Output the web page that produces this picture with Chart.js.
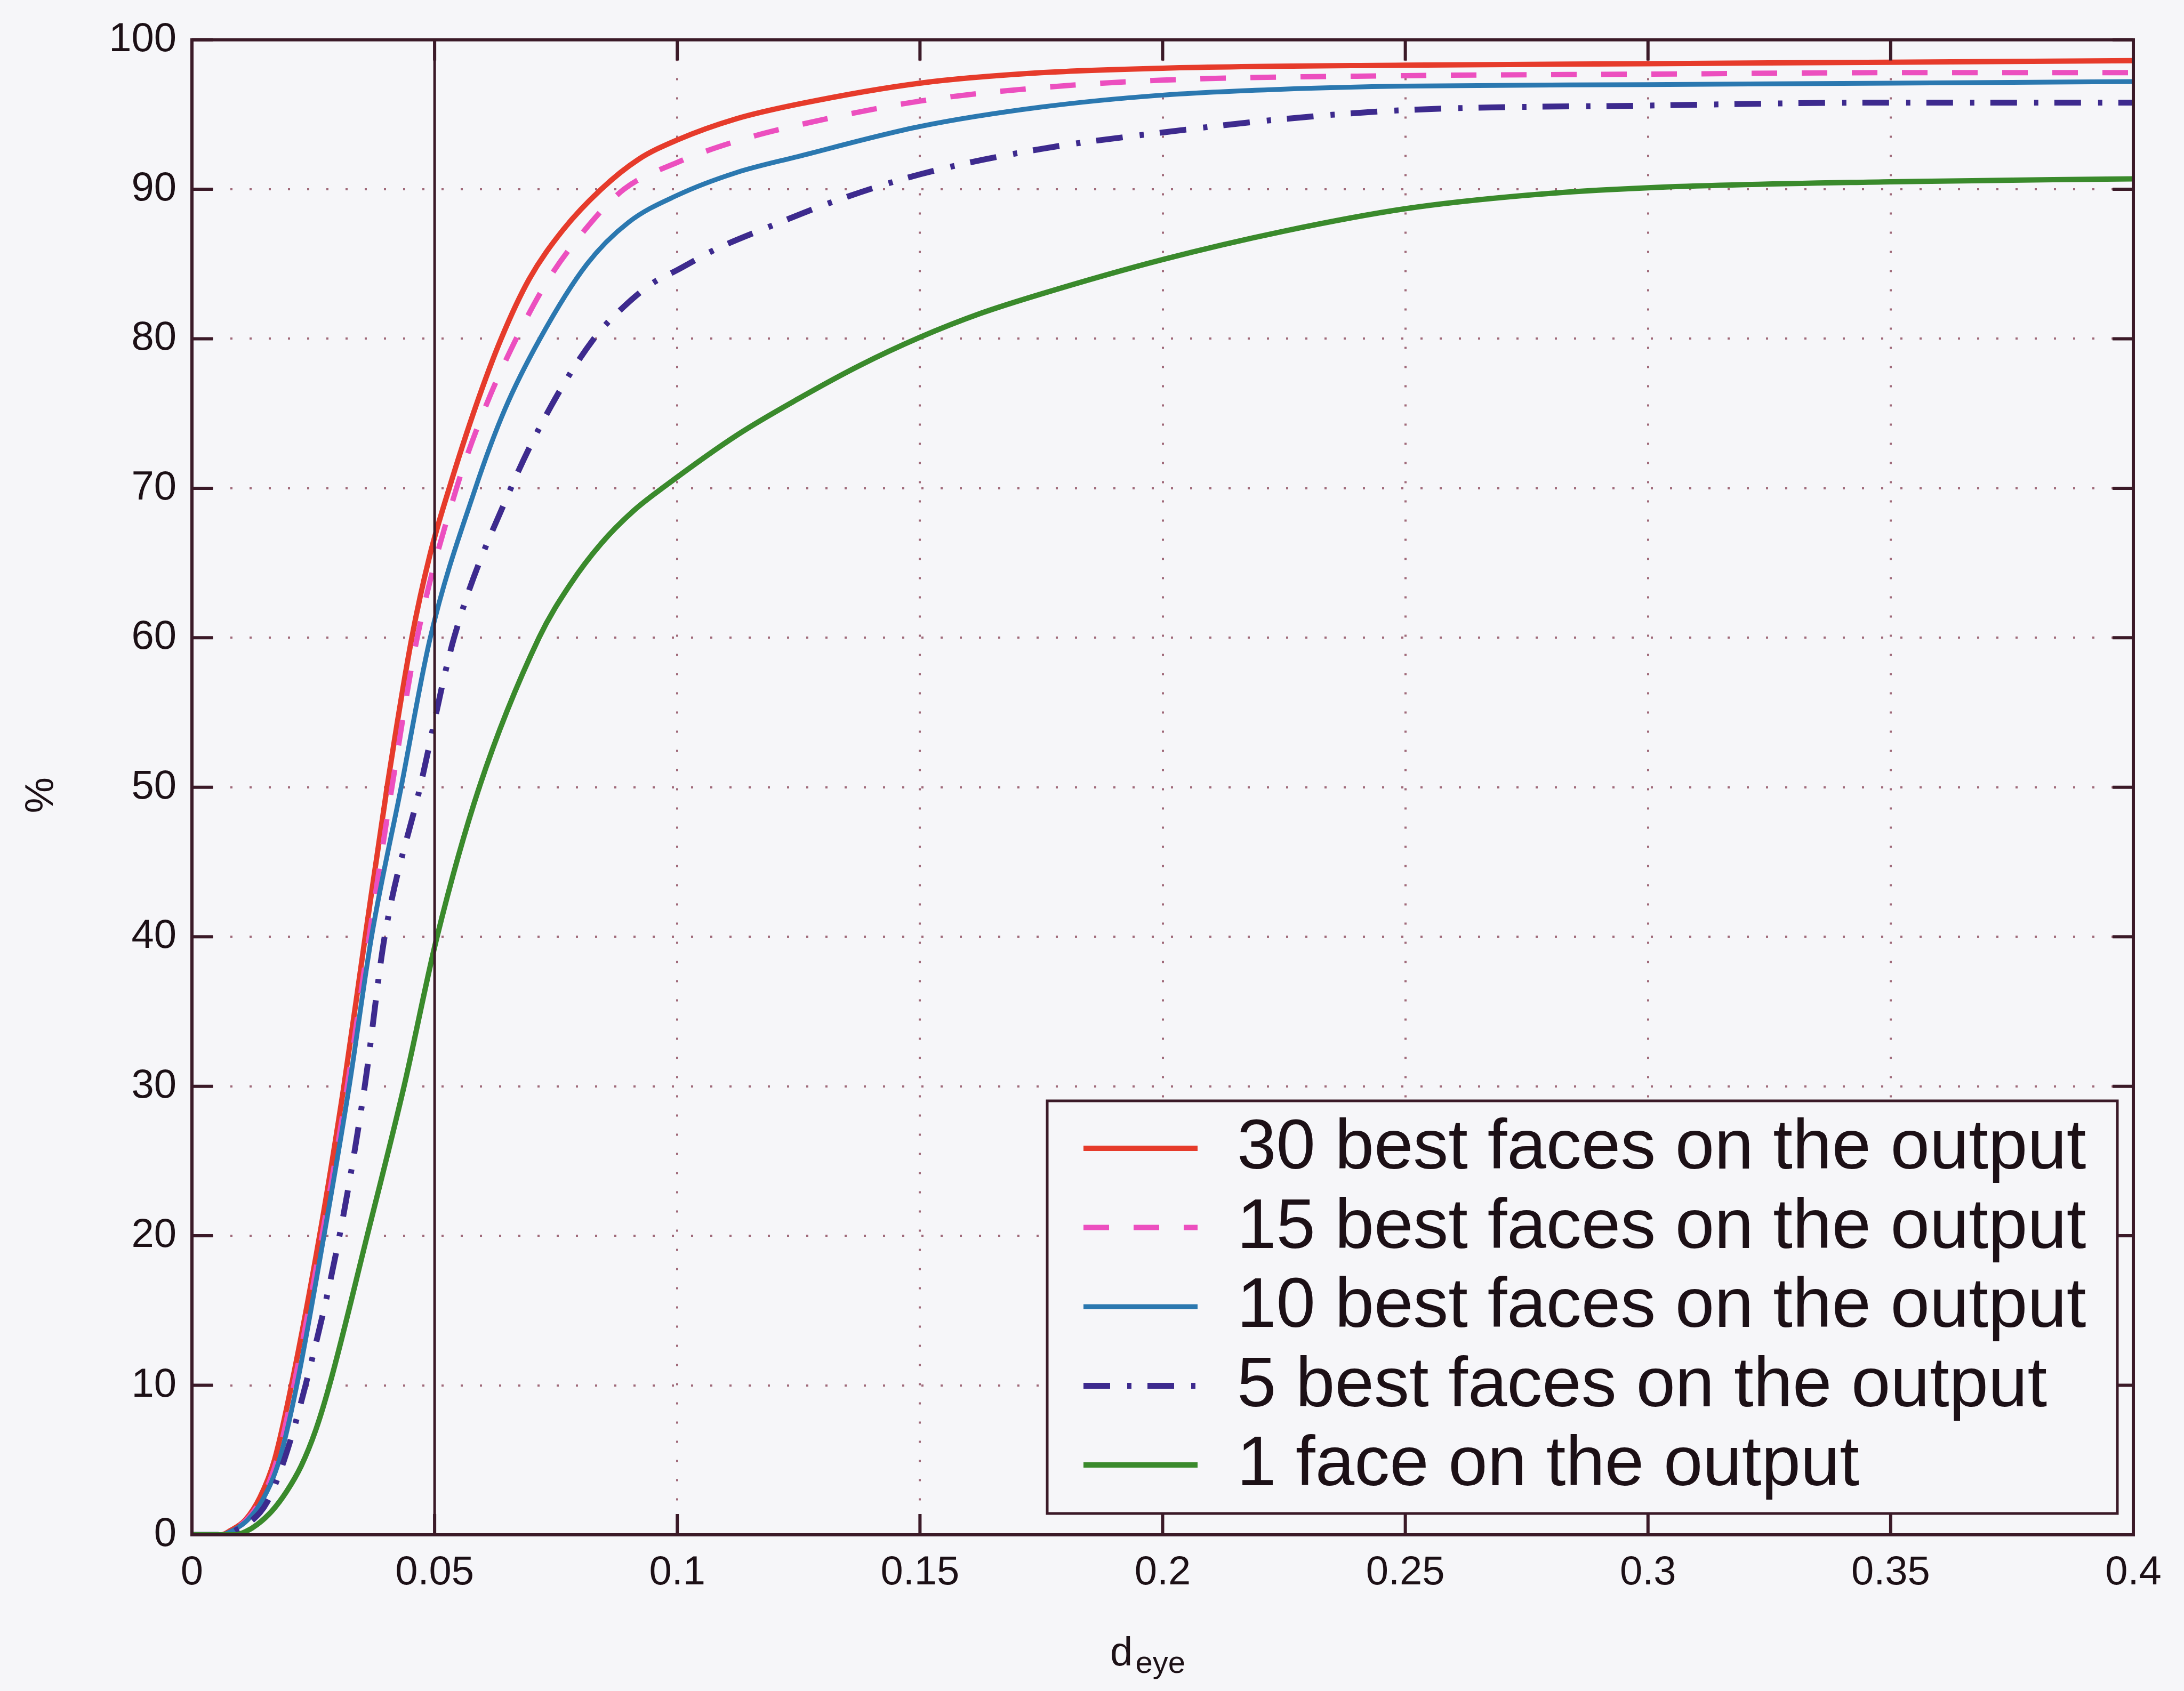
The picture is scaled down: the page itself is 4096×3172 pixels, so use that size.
<!DOCTYPE html>
<html>
<head>
<meta charset="utf-8">
<script src="https://cdn.jsdelivr.net/npm/chart.js@4.4.1/dist/chart.umd.min.js"></script>
<style>
  html, body { margin: 0; padding: 0; background: #f6f6f9; }
  canvas { display: block; }
</style>
</head>
<body>
<canvas id="cdf" width="4096" height="3172"></canvas>
<script>
// ---- data -------------------------------------------------------------
const xTickLabels = ['0', '0.05', '0.1', '0.15', '0.2', '0.25', '0.3', '0.35', '0.4'];
const yTickLabels = ['0', '10', '20', '30', '40', '50', '60', '70', '80', '90', '100'];

const seriesNames = [
  '30 best faces on the output',
  '15 best faces on the output',
  '10 best faces on the output',
  '5 best faces on the output',
  '1 face on the output'
];

const dEye30 = [0, 0.006, 0.008, 0.011, 0.014, 0.017, 0.0205, 0.0263, 0.0313, 0.0357, 0.0402, 0.0453, 0.049, 0.053, 0.0585, 0.0637, 0.0695, 0.0765, 0.0843, 0.092, 0.1, 0.112, 0.125, 0.15, 0.175, 0.2, 0.25, 0.3, 0.35, 0.4];
const pct30  = [0, 0, 0.3, 1, 2.5, 5, 10, 20, 30, 40, 50, 60, 65.5, 70, 75.5, 80, 84, 87.3, 90, 92, 93.3, 94.7, 95.7, 97.1, 97.8, 98.1, 98.3, 98.4, 98.5, 98.6];

const dEye15 = [0, 0.006, 0.0083, 0.0113, 0.0143, 0.0175, 0.021, 0.0268, 0.032, 0.0365, 0.0412, 0.0464, 0.0545, 0.0603, 0.0668, 0.0735, 0.081, 0.089, 0.1, 0.112, 0.125, 0.15, 0.175, 0.2, 0.25, 0.3, 0.35, 0.4];
const pct15  = [0, 0, 0.3, 1, 2.4, 5, 10, 20, 30, 40, 50, 60, 70, 75.3, 80, 84, 87.3, 90, 91.8, 93.2, 94.3, 95.9, 96.8, 97.3, 97.6, 97.7, 97.8, 97.8];

const dEye10 = [0, 0.006, 0.0085, 0.0115, 0.0145, 0.018, 0.0216, 0.0272, 0.0324, 0.037, 0.0431, 0.0491, 0.0584, 0.0645, 0.0717, 0.0814, 0.09, 0.1, 0.112, 0.125, 0.15, 0.175, 0.2, 0.225, 0.25, 0.3, 0.35, 0.4];
const pct10  = [0, 0, 0.3, 1, 2.3, 5, 10, 20, 30, 40, 50, 60, 70, 75.3, 80, 85, 87.8, 89.6, 91.1, 92.2, 94.2, 95.5, 96.3, 96.7, 96.9, 97.0, 97.1, 97.2];

const dEye5 = [0, 0.0065, 0.009, 0.0125, 0.0155, 0.019, 0.0234, 0.0304, 0.0356, 0.0397, 0.047, 0.054, 0.0657, 0.074, 0.0828, 0.0885, 0.0948, 0.1, 0.108, 0.119, 0.1315, 0.15, 0.175, 0.2, 0.225, 0.25, 0.3, 0.35, 0.4];
const pct5  = [0, 0, 0.3, 1, 2.2, 5, 10, 20, 30, 40, 50, 60, 70, 75.5, 80, 82, 83.7, 84.6, 86, 87.5, 89.1, 91.0, 92.7, 93.8, 94.7, 95.3, 95.6, 95.8, 95.8];

const dEye1 = [0, 0.009, 0.011, 0.0135, 0.0165, 0.0195, 0.0225, 0.0255, 0.0285, 0.0361, 0.0437, 0.0505, 0.0592, 0.0715, 0.078, 0.0843, 0.091, 0.0977, 0.1125, 0.125, 0.1375, 0.15, 0.1625, 0.175, 0.2, 0.225, 0.25, 0.275, 0.3, 0.35, 0.4];
const pct1  = [0, 0, 0.2, 0.7, 1.6, 2.9, 4.6, 7.0, 10.2, 20, 30, 40, 50, 60, 63.6, 66.3, 68.5, 70.2, 73.6, 76, 78.2, 80.1, 81.7, 83.0, 85.3, 87.2, 88.7, 89.6, 90.1, 90.5, 90.7];

// threshold marker d_eye = 0.05
const thresholdX = [0.05, 0.05];
const thresholdY = [0, 100];

// ---- styling ----------------------------------------------------------
const FONT = "'Liberation Sans', Arial, Helvetica, sans-serif";
const PAPER = '#f6f6f9';
const INK = '#1c1016';
const AXIS = '#3b1a28';
const GRID = '#a06a7a';

const toPoints = (xs, ys) => xs.map((x, i) => ({ x: x, y: ys[i] }));

const curve = (name, xs, ys, color, dash, width, order) => ({
  label: name,
  data: toPoints(xs, ys),
  borderColor: color,
  backgroundColor: color,
  borderWidth: width,
  borderDash: dash,
  borderCapStyle: 'butt',
  pointRadius: 0,
  cubicInterpolationMode: 'monotone',
  fill: false,
  order: order
});

const datasets = [
  curve(seriesNames[0], dEye30, pct30, '#e63b2b', [], 10, 5),
  curve(seriesNames[1], dEye15, pct15, '#ec4fbf', [48, 46], 10, 4),
  curve(seriesNames[2], dEye10, pct10, '#2b78b0', [], 9, 3),
  curve(seriesNames[3], dEye5, pct5, '#3d2a8e', [50, 32, 8, 30], 11, 2),
  curve(seriesNames[4], dEye1, pct1, '#3a8a2c', [], 10, 1),
  {
    label: 'threshold',
    data: toPoints(thresholdX, thresholdY),
    borderColor: AXIS,
    borderWidth: 5,
    pointRadius: 0,
    fill: false,
    order: 0,
    isMarker: true
  }
];

// Frame, inward tick marks, legend box and axis titles
const framePlugin = {
  id: 'frame',
  beforeDraw(chart) {
    const ctx = chart.ctx;
    ctx.save();
    ctx.fillStyle = PAPER;
    ctx.fillRect(0, 0, chart.width, chart.height);
    ctx.restore();
  },
  afterDatasetsDraw(chart) {
    const { ctx, chartArea: a, scales: { x, y } } = chart;
    const tickLen = 39;
    ctx.save();
    ctx.strokeStyle = AXIS;
    ctx.lineWidth = 6;
    ctx.lineCap = 'butt';
    ctx.setLineDash([]);
    ctx.beginPath();
    x.ticks.forEach(t => {
      const px = x.getPixelForValue(t.value);
      ctx.moveTo(px, a.bottom); ctx.lineTo(px, a.bottom - tickLen);
      ctx.moveTo(px, a.top); ctx.lineTo(px, a.top + tickLen);
    });
    y.ticks.forEach(t => {
      const py = y.getPixelForValue(t.value);
      ctx.moveTo(a.left, py); ctx.lineTo(a.left + tickLen, py);
      ctx.moveTo(a.right, py); ctx.lineTo(a.right - tickLen, py);
    });
    ctx.stroke();
    ctx.strokeRect(a.left, a.top, a.right - a.left, a.bottom - a.top);

    // legend in the lower right corner of the plot
    const entries = chart.data.datasets.filter(d => !d.isMarker);
    const boxW = 2007, boxH = 774;
    const bx = a.right - 30 - boxW;
    const by = a.bottom - 40 - boxH;
    ctx.fillStyle = PAPER;
    ctx.fillRect(bx, by, boxW, boxH);
    ctx.lineWidth = 5;
    ctx.strokeStyle = AXIS;
    ctx.strokeRect(bx, by, boxW, boxH);
    ctx.font = '132px ' + FONT;
    ctx.textBaseline = 'middle';
    ctx.textAlign = 'left';
    entries.forEach((d, i) => {
      const cy = by + 89 + i * 148.5;
      ctx.beginPath();
      ctx.strokeStyle = d.borderColor;
      ctx.lineWidth = d.borderWidth;
      ctx.setLineDash(d.borderDash || []);
      ctx.moveTo(bx + 68, cy);
      ctx.lineTo(bx + 282, cy);
      ctx.stroke();
      ctx.setLineDash([]);
      ctx.fillStyle = INK;
      ctx.fillText(d.label, bx + 356, cy + 2);
    });
    ctx.restore();
  },
  afterDraw(chart) {
    const { ctx, chartArea: a } = chart;
    ctx.save();
    ctx.fillStyle = INK;
    // y title
    ctx.translate(a.left - 282, (a.top + a.bottom) / 2 + 15);
    ctx.rotate(-Math.PI / 2);
    ctx.font = '76px ' + FONT;
    ctx.textAlign = 'center';
    ctx.textBaseline = 'middle';
    ctx.fillText('%', 0, 0);
    ctx.restore();

    // x title: d with subscript "eye"
    ctx.save();
    ctx.fillStyle = INK;
    ctx.textAlign = 'left';
    ctx.textBaseline = 'alphabetic';
    ctx.font = '76px ' + FONT;
    const wd = ctx.measureText('d').width;
    ctx.font = '58px ' + FONT;
    const ws = ctx.measureText('eye').width;
    const gap = 5;
    const cx = (a.left + a.right) / 2 - 28;
    const x0 = cx - (wd + gap + ws) / 2;
    const base = a.bottom + 245;
    ctx.font = '76px ' + FONT;
    ctx.fillText('d', x0, base);
    ctx.font = '58px ' + FONT;
    ctx.fillText('eye', x0 + wd + gap, base + 14);
    ctx.restore();
  }
};

new Chart(document.getElementById('cdf'), {
  type: 'line',
  data: { datasets: datasets },
  options: {
    responsive: false,
    animation: false,
    devicePixelRatio: 1,
    layout: { padding: { top: 51, right: 95, left: 0, bottom: 0 } },
    plugins: {
      legend: { display: false },
      tooltip: { enabled: false }
    },
    scales: {
      x: {
        type: 'linear',
        min: 0,
        max: 0.4,
        afterFit(scale) { scale.height = 293; },
        grid: {
          color: ctx => (ctx.tick && Math.abs(ctx.tick.value - 0.05) < 1e-9) ? 'rgba(0,0,0,0)' : GRID,
          lineWidth: 4,
          drawTicks: false
        },
        border: { display: false, dash: [4, 32] },
        ticks: {
          stepSize: 0.05,
          autoSkip: false,
          maxRotation: 0,
          padding: 26,
          color: INK,
          font: { family: FONT, size: 76 },
          callback: (v, i) => xTickLabels[i]
        }
      },
      y: {
        type: 'linear',
        min: 0,
        max: 100,
        afterFit(scale) { scale.width = 360; },
        grid: { color: GRID, lineWidth: 4, drawTicks: false },
        border: { display: false, dash: [4, 32] },
        ticks: {
          stepSize: 10,
          autoSkip: false,
          padding: 29,
          color: INK,
          font: { family: FONT, size: 76 },
          callback: (v, i) => yTickLabels[i]
        }
      }
    }
  },
  plugins: [framePlugin]
});
</script>
</body>
</html>
